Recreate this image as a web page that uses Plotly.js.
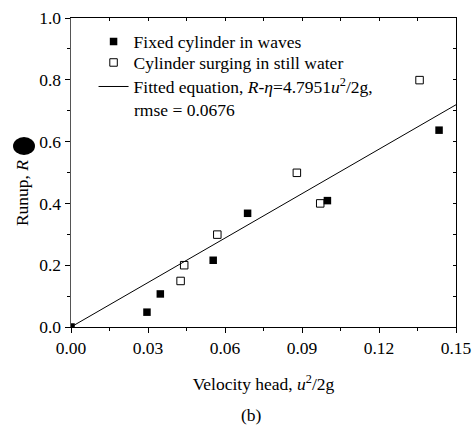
<!DOCTYPE html>
<html>
<head>
<meta charset="utf-8">
<script src="https://cdn.plot.ly/plotly-3.0.1.min.js"></script>
<style>html,body{margin:0;padding:0;background:#fff;}#chart{width:475px;height:426px;}</style>
</head>
<body>
<div id="chart"></div>
<script>
// Fixed cylinder in waves
var fixedX = [0.0, 0.0296, 0.0348, 0.0554, 0.0688, 0.0999, 0.1434];
var fixedY = [0.0, 0.048, 0.107, 0.216, 0.368, 0.409, 0.637];
// Cylinder surging in still water
var surgeX = [0.0427, 0.0441, 0.0570, 0.0880, 0.0971, 0.1358];
var surgeY = [0.149, 0.200, 0.299, 0.499, 0.400, 0.799];
// Fitted equation R-eta = 4.7951 u^2/2g
var fitX = [0.0, 0.15];
var fitY = [0.0, 0.7193];

var xTickVals = [0, 0.03, 0.06, 0.09, 0.12, 0.15];
var xTickText = ['0.00', '0.03', '0.06', '0.09', '0.12', '0.15'];
var yTickVals = [0, 0.2, 0.4, 0.6, 0.8, 1.0];
var yTickText = ['0.0', '0.2', '0.4', '0.6', '0.8', '1.0'];

var F = 'Liberation Serif, Times New Roman, serif';
var FS = 17.5;

var traces = [
  {x: fixedX, y: fixedY, type: 'scatter', mode: 'markers', name: 'Fixed cylinder in waves', legend: 'legend',
   marker: {symbol: 'square', size: 7.5, color: '#000', line: {width: 0}}},
  {x: surgeX, y: surgeY, type: 'scatter', mode: 'markers', name: 'Cylinder surging in still water', legend: 'legend2',
   marker: {symbol: 'square-open', size: 7.5, color: '#000', line: {width: 1}}},
  {x: fitX, y: fitY, type: 'scatter', mode: 'lines', xaxis: 'x2', yaxis: 'y2', legend: 'legend3',
   name: 'Fitted equation, <i>R</i>-<i>η</i>=4.7951<i>u</i><sup>2</sup>/2g,',
   line: {color: '#000', width: 1}}
];

function leg(y) {
  return {x: 0.0586, y: y, xanchor: 'left', yanchor: 'top', bgcolor: 'rgba(0,0,0,0)',
          font: {family: F, size: FS, color: '#000'}, tracegroupgap: 0, valign: 'top'};
}

var layout = {
  width: 475, height: 426,
  margin: {l: 71, r: 19, t: 18, b: 99},
  paper_bgcolor: '#fff', plot_bgcolor: '#fff',
  font: {family: F, size: FS, color: '#000'},
  showlegend: true,
  legend: leg(0.9819),
  legend2: leg(0.9139),
  legend3: leg(0.8362),
  xaxis: {range: [0, 0.15], tickvals: xTickVals, ticktext: xTickText,
          showgrid: false, zeroline: false, showline: true, linecolor: '#000', linewidth: 1.2,
          ticks: 'outside', ticklen: 5, tickwidth: 1, tickcolor: '#000',
          minor: {dtick: 0.015, tick0: 0, ticks: 'outside', ticklen: 3, tickcolor: '#000', showgrid: false},
          tickfont: {family: F, size: FS},
          title: {text: 'Velocity head, <i>u</i><sup>2</sup>/2g', font: {family: F, size: FS}, standoff: 20}},
  yaxis: {range: [0, 1.0], tickvals: yTickVals, ticktext: yTickText,
          showgrid: false, zeroline: false, showline: true, linecolor: '#555', linewidth: 1.5,
          ticks: 'outside', ticklen: 5, tickwidth: 1, tickcolor: '#000',
          minor: {dtick: 0.1, tick0: 0, ticks: 'outside', ticklen: 3, tickcolor: '#000', showgrid: false},
          tickfont: {family: F, size: FS}},
  xaxis2: {overlaying: 'x', side: 'top', anchor: 'y2', range: [0, 0.15], dtick: 0.015, tick0: 0,
           showticklabels: false, showgrid: false, zeroline: false, showline: true,
           linecolor: '#000', linewidth: 1, ticks: 'inside', ticklen: 3, tickcolor: '#000'},
  yaxis2: {overlaying: 'y', side: 'right', anchor: 'x2', range: [0, 1.0], dtick: 0.1, tick0: 0,
           showticklabels: false, showgrid: false, zeroline: false, showline: true,
           linecolor: '#000', linewidth: 1, ticks: 'inside', ticklen: 3, tickcolor: '#000'},
  annotations: [
    {xref: 'paper', yref: 'paper', x: -0.127, y: 0.3204, xanchor: 'center', yanchor: 'bottom',
     text: 'Runup, <i>R</i>', textangle: -90, showarrow: false, font: {family: F, size: FS}},
    {xref: 'paper', yref: 'paper', x: 0.1585, y: 0.7023, xanchor: 'left', yanchor: 'middle',
     text: 'rmse = 0.0676', showarrow: false, font: {family: F, size: FS}},
    {xref: 'paper', yref: 'paper', x: 0.4701, y: -0.2848, xanchor: 'center', yanchor: 'middle',
     text: '(b)', showarrow: false, font: {family: F, size: FS}}
  ],
  shapes: [
    {type: 'circle', xref: 'paper', yref: 'paper', x0: -0.1506, x1: -0.0935, y0: 0.5566, y1: 0.6149,
     fillcolor: '#000', line: {width: 0}, layer: 'above'}
  ]
};

Plotly.newPlot('chart', traces, layout, {displayModeBar: false, staticPlot: true});
</script>
</body>
</html>
